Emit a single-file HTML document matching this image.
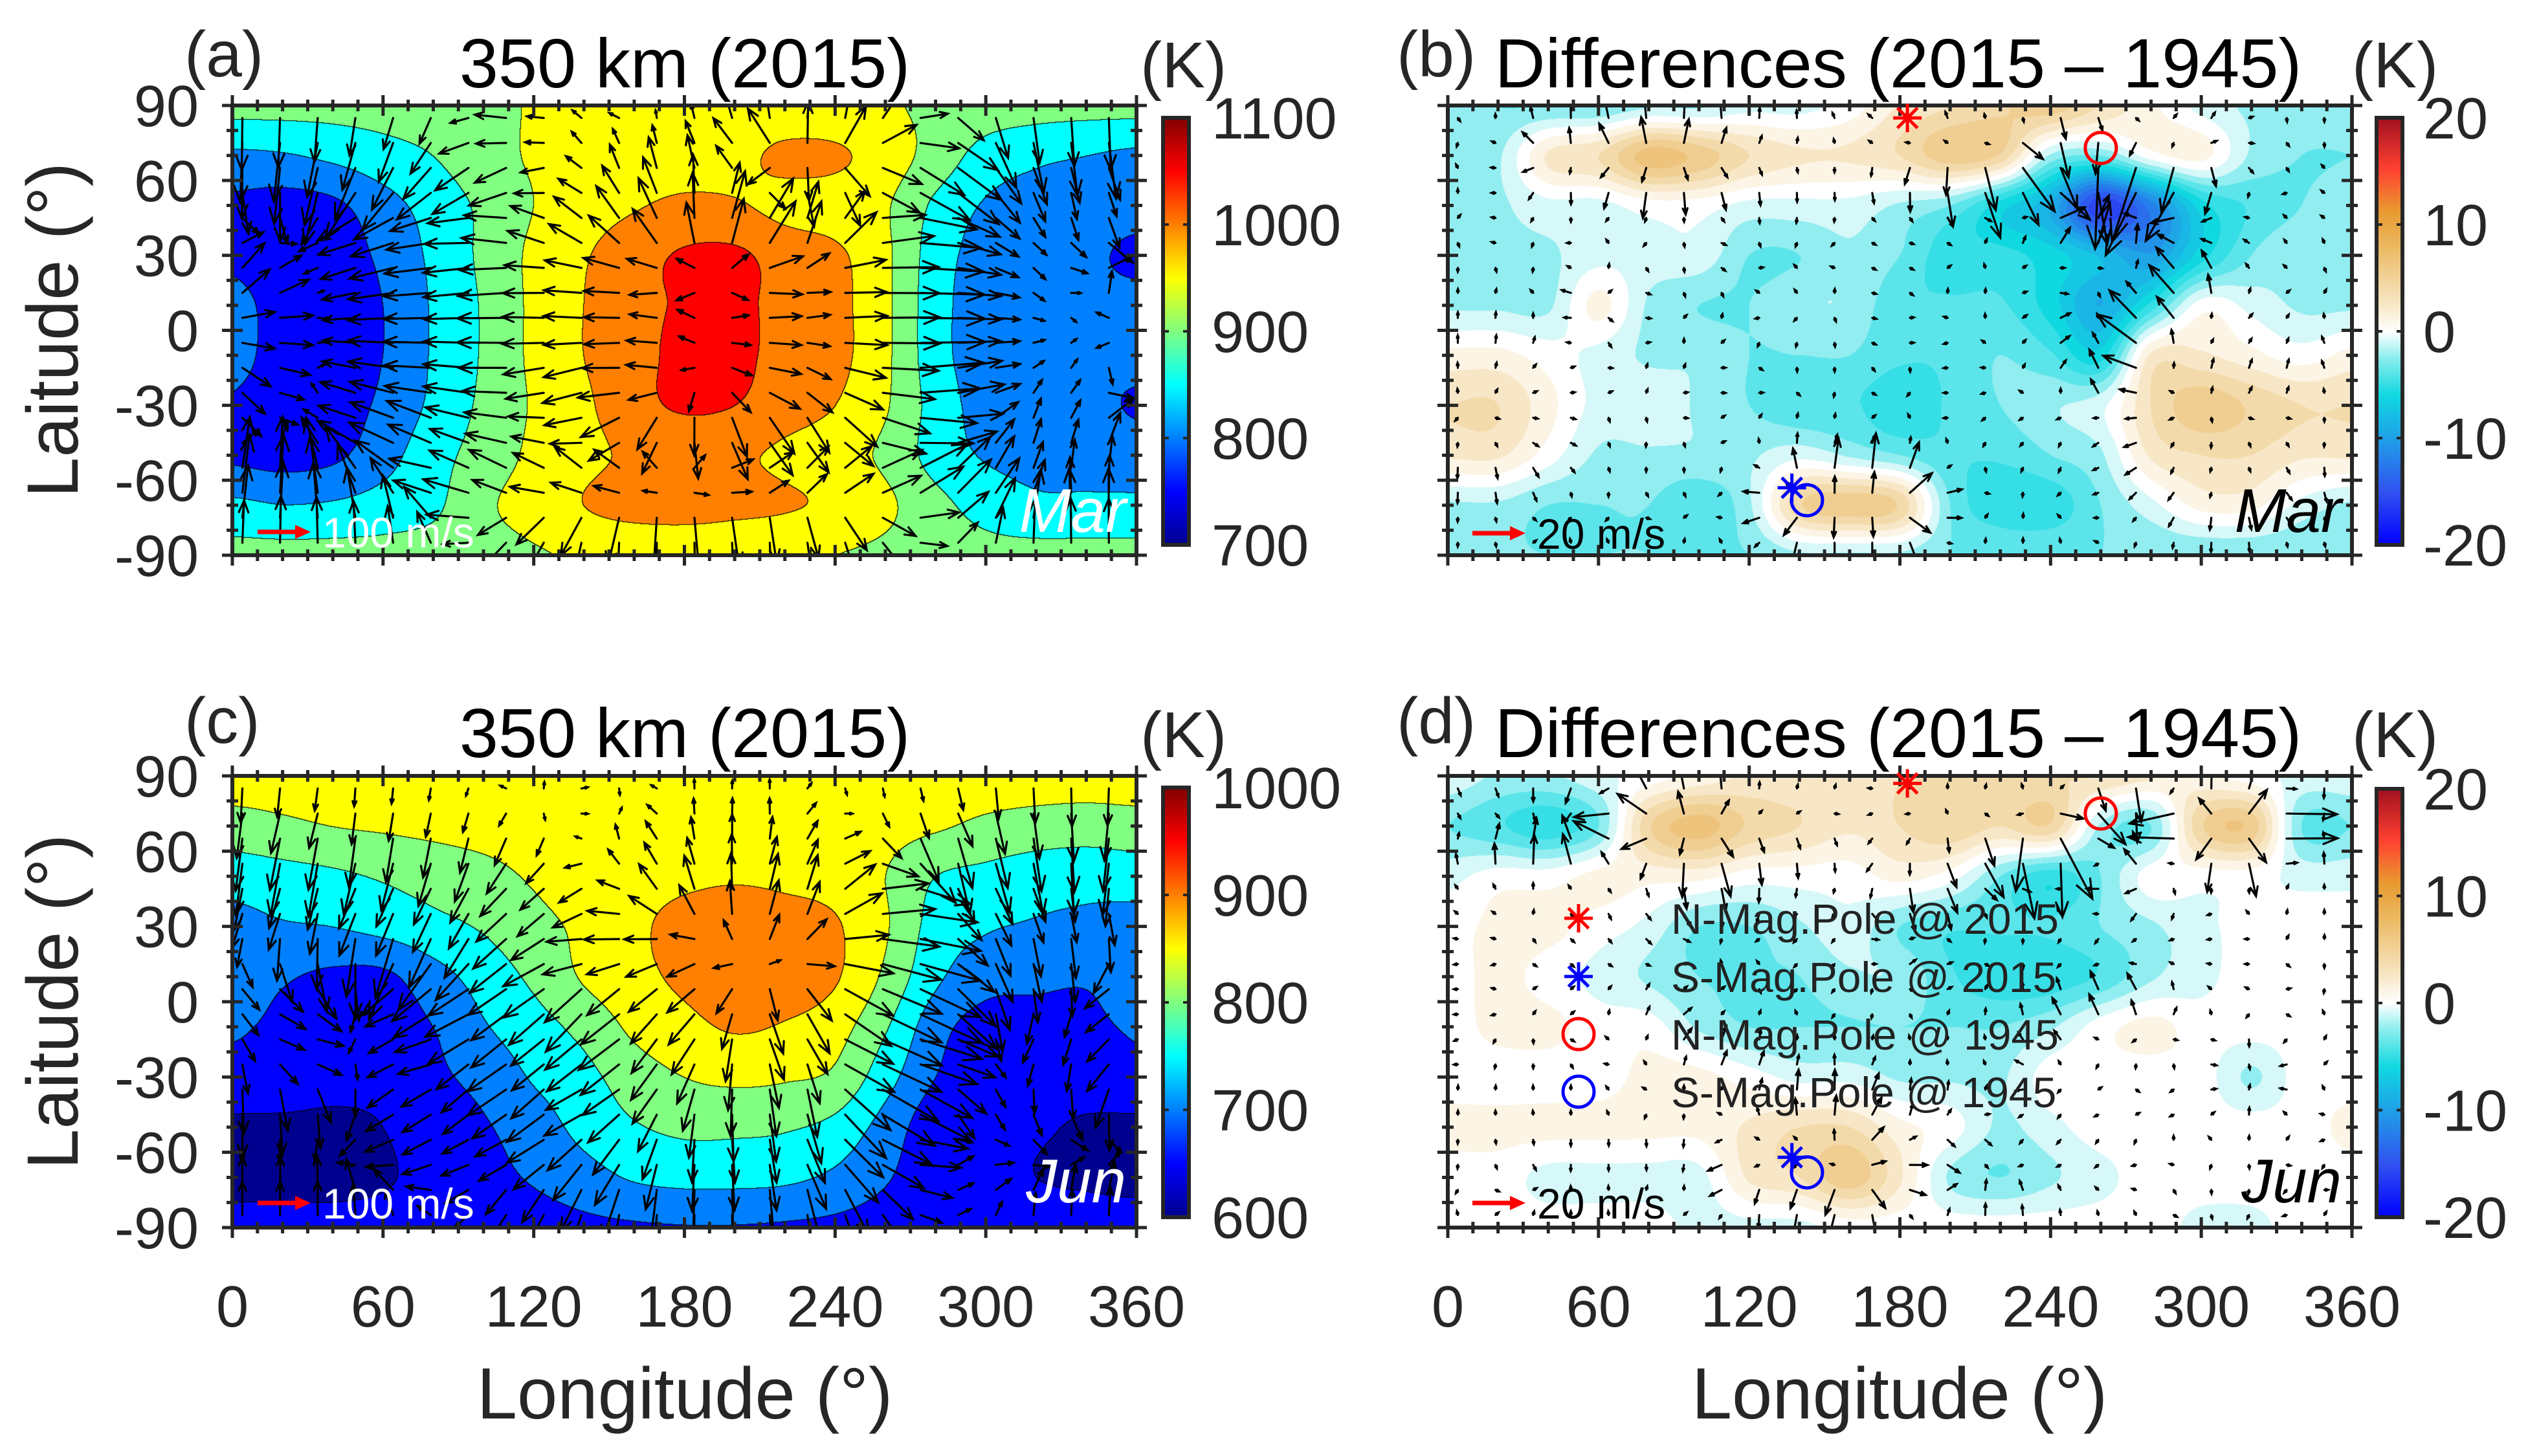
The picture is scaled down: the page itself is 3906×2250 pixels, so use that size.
<!DOCTYPE html>
<html><head><meta charset="utf-8">
<style>
html,body{margin:0;padding:0;background:#fff;}
#wrap{position:relative;width:3906px;height:2250px;overflow:hidden;background:#fff;font-family:"Liberation Sans",Arial,sans-serif;}
canvas{position:absolute;}
svg{position:absolute;left:0;top:0;}
text{font-family:"Liberation Sans",Arial,sans-serif;fill:#262626;}
</style></head>
<body>
<div id="wrap">
<canvas id="cvA"></canvas>
<canvas id="cvB"></canvas>
<canvas id="cvC"></canvas>
<canvas id="cvD"></canvas>
<svg id="svg" width="3906" height="2250" viewBox="0 0 3906 2250">
<defs>
<linearGradient id="jet" x1="0" y1="1" x2="0" y2="0">
<stop offset="0" stop-color="#00008F"/><stop offset="0.125" stop-color="#0000FF"/>
<stop offset="0.375" stop-color="#00FFFF"/><stop offset="0.625" stop-color="#FFFF00"/>
<stop offset="0.875" stop-color="#FF0000"/><stop offset="1" stop-color="#800000"/>
</linearGradient>
<linearGradient id="dif" x1="0" y1="1" x2="0" y2="0">
<stop offset="0" stop-color="#0000FF"/><stop offset="0.12" stop-color="#3050F0"/>
<stop offset="0.25" stop-color="#20A0E8"/><stop offset="0.35" stop-color="#10D8E0"/>
<stop offset="0.44" stop-color="#90EEEE"/><stop offset="0.5" stop-color="#FFFFFF"/>
<stop offset="0.56" stop-color="#F8E8C8"/><stop offset="0.7" stop-color="#EBB860"/>
<stop offset="0.78" stop-color="#E89A30"/><stop offset="0.88" stop-color="#FF4030"/>
<stop offset="1" stop-color="#A01020"/>
</linearGradient>
<clipPath id="clipA"><rect x="359" y="163" width="1397" height="695"/></clipPath>
<clipPath id="clipB"><rect x="2237" y="163" width="1397" height="695"/></clipPath>
<clipPath id="clipC"><rect x="359" y="1199" width="1397" height="698"/></clipPath>
<clipPath id="clipD"><rect x="2237" y="1199" width="1397" height="698"/></clipPath>
</defs>
</svg>
</div>
<script>
// ---------- data ----------
const gridLons = [0,20,40,60,80,100,120,140,160,180,200,220,240,260,280,300,320,340,360];
const gridLats = [90,70,50,30,10,-10,-30,-50,-70,-90];
const tempMar = [
[915,915,915,918,925,930,955,960,965,965,965,965,960,955,940,925,918,915,915],
[840,845,860,880,900,930,955,965,970,975,985,1010,1008,975,930,880,860,850,840],
[790,780,790,830,870,910,950,975,995,1010,1005,985,975,955,890,845,830,825,820],
[790,770,775,810,860,910,960,995,1030,1055,1058,1030,1010,960,875,830,820,810,790],
[815,780,770,800,855,905,960,1000,1035,1055,1060,1035,1015,960,870,825,815,812,815],
[815,780,770,800,855,905,960,1000,1035,1060,1060,1035,1015,960,870,825,815,812,815],
[795,775,775,810,860,910,955,990,1035,1055,1050,1025,1000,955,880,830,820,815,795],
[790,780,790,830,880,920,960,985,1010,1020,1010,990,970,940,880,845,835,830,825],
[860,850,855,870,890,940,970,1000,1020,1025,1015,1005,990,960,915,880,860,860,860],
[915,915,915,915,920,930,945,955,955,955,955,955,950,940,925,915,915,915,915]
];
const tempJun = [
[870,870,870,870,870,870,870,870,870,870,870,870,870,870,870,870,870,870,870],
[830,840,850,855,860,865,870,870,870,875,875,875,870,865,855,840,830,825,830],
[770,780,790,805,820,835,855,870,880,890,895,890,880,850,800,785,770,765,770],
[735,745,750,765,785,805,835,860,890,915,925,920,905,855,780,755,745,740,735],
[720,705,690,690,730,770,810,855,885,910,930,930,905,840,760,720,710,705,720],
[705,690,670,675,700,745,780,815,860,885,905,895,870,805,720,680,685,690,705],
[685,680,665,665,690,715,755,785,825,850,860,855,840,770,700,670,670,670,685],
[640,640,640,650,675,695,725,765,795,810,810,805,785,730,670,660,655,645,640],
[635,635,635,645,665,685,705,730,755,765,765,760,740,705,670,660,650,645,640],
[665,665,665,665,668,672,680,690,695,698,698,695,690,680,670,665,665,665,665]
];
const diffMar = [
[-2,-3,-3,-3,-2,-2,-1,-1,0,2,3,4,5,3,1,-1,-2,-2,-2],
[-3,-2,2,3,6,5,3,2,2,3,5,4,-2,-3,0,1,-2,-3,-3],
[-2,-2,-1,-1,0,0,-1,-1,-1,-2,-3,-6,-9,-16,-12,-6,-4,-3,-2],
[-2,-2,-2,-1,-1,-1,-3,-3,-2,-3,-5,-5,-6,-8,-10,-6,-3,-2,-2],
[-2,-2,-2,1,-2,-3,-3,-2,-2,-4,-4,-4,-6,-9,-5,0,-1,-2,-2],
[1,1,0,-1,-2,-2,-3,-3,-3,-4,-4,-3,-4,-6,2,2,1,0,1],
[3,3,1,-1,-1,-2,-3,-4,-4,-5,-4,-3,-2,-1,3,5,4,3,3],
[2,2,0,-2,-2,-2,-2,-1,-2,-3,-4,-4,-3,-2,2,3,3,2,2],
[-2,-2,-3,-3,-3,-4,-2,4,5,4,-3,-5,-5,-3,-1,1,1,-1,-2],
[-3,-3,-3,-3,-3,-3,-3,-2,-2,-2,-3,-3,-3,-3,-3,-3,-3,-3,-3]
];
const diffJun = [
[-1,-2,-2,-1,0,1,2,2,2,3,3,3,3,3,2,1,0,-1,-1],
[-3,-4,-5,-3,4,6,4,3,2,3,4,3,4,-2,-3,4,5,-3,-3],
[-1,0,0,1,1,1,0,0,0,1,0,-3,-5,-3,0,0,0,-1,-1],
[0,1,1,0,-1,-3,-3,-2,-1,-3,-4,-4,-4,-3,-2,-1,0,0,0],
[0,1,0,-1,-2,-3,-3,-3,-2,-2,-4,-5,-5,-4,-2,-1,0,0,0],
[0,1,1,0,0,-2,-3,-3,-3,-3,-3,-3,-2,0,1,0,0,0,0],
[0,0,0,0,1,1,0,-1,-1,-2,-2,-2,0,0,0,0,-2,0,0],
[1,1,1,1,1,1,2,3,3,1,0,-2,-1,0,0,0,0,0,1],
[0,0,-1,-1,-1,-1,2,3,5,2,-2,-3,-2,-1,0,0,0,0,0],
[0,0,0,0,0,-1,-1,-1,0,0,0,0,0,0,0,-1,-1,0,0]
];
const lonTicks = [0,60,120,180,240,300,360];
const latTicks = [90,60,30,0,-30,-60,-90];
const cbMarTicks = [700,800,900,1000,1100];
const cbJunTicks = [600,700,800,900,1000];
const cbDiffTicks = [-20,-10,0,10,20];
const poleNames = ['N-Mag.Pole @ 2015','S-Mag.Pole @ 2015','N-Mag.Pole @ 1945','S-Mag.Pole @ 1945'];
const poleLonMar = [183,137,260,143];
const poleLatMar = [85,-63,73,-68];
const poleLonJun = [183,137,260,143];
const poleLatJun = [87,-62,75,-68];

// ---------- layout ----------
const P = {
 a:{x:359,y:163,w:1397,h:695},
 b:{x:2237,y:163,w:1397,h:695},
 c:{x:359,y:1199,w:1397,h:698},
 d:{x:2237,y:1199,w:1397,h:698}
};
const NS='http://www.w3.org/2000/svg';
const svg=document.getElementById('svg');
function el(tag,attrs,parent){const e=document.createElementNS(NS,tag);for(const k in attrs)e.setAttribute(k,attrs[k]);(parent||svg).appendChild(e);return e;}

function cr(p0,p1,p2,p3,t){return 0.5*((2*p1)+(-p0+p2)*t+(2*p0-5*p1+4*p2-p3)*t*t+(-p0+3*p1-3*p2+p3)*t*t*t);}
function sample(g,lon,lat){
 const nx=g[0].length,ny=g.length;
 let gx=lon/20,gy=(90-lat)/20;
 gx=Math.max(0,Math.min(nx-1,gx));gy=Math.max(0,Math.min(ny-1,gy));
 const ix=Math.min(nx-2,Math.floor(gx)),iy=Math.min(ny-2,Math.floor(gy));
 const tx=gx-ix,ty=gy-iy;
 const rows=[];
 for(let j=-1;j<=2;j++){
  const r=g[Math.max(0,Math.min(ny-1,iy+j))];
  const v=[];for(let i=-1;i<=2;i++)v.push(r[Math.max(0,Math.min(nx-1,ix+i))]);
  rows.push(cr(v[0],v[1],v[2],v[3],tx));
 }
 return cr(rows[0],rows[1],rows[2],rows[3],ty);
}
const jetLevels=[[0,0,143],[0,0,255],[0,128,255],[0,255,255],[128,255,128],[255,255,0],[255,128,0],[255,0,0]];
const difStops=[[-20,[0,0,255]],[-15,[48,80,240]],[-10,[32,160,232]],[-6,[16,216,224]],[-3,[110,232,236]],[-1.2,[214,248,248]],[0,[255,255,255]],[1.2,[252,244,228]],[4,[242,214,160]],[8,[234,176,88]],[11,[232,154,48]],[15,[255,64,48]],[20,[160,16,32]]];
function difColor(v){
 v=Math.round(v/1.2)*1.2;
 if(v<=-20)return difStops[0][1];if(v>=20)return difStops[difStops.length-1][1];
 for(let i=0;i<difStops.length-1;i++){const a=difStops[i],b=difStops[i+1];
  if(v>=a[0]&&v<=b[0]){const t=(v-a[0])/(b[0]-a[0]);return [0,1,2].map(k=>a[1][k]+(b[1][k]-a[1][k])*t);}}
 return [255,255,255];
}
function drawField(id,p,g,mode,vmin){
 const cv=document.getElementById(id);cv.width=p.w;cv.height=p.h;
 cv.style.left=p.x+'px';cv.style.top=p.y+'px';
 const ctx=cv.getContext('2d');const img=ctx.createImageData(p.w,p.h);
 const lv=new Int8Array(p.w*p.h);const vals=new Float32Array(p.w*p.h);
 for(let y=0;y<p.h;y++){const lat=90-y/(p.h-1)*180;
  for(let x=0;x<p.w;x++){const lon=x/(p.w-1)*360;const v=sample(g,lon,lat);vals[y*p.w+x]=v;
   if(mode==='temp'){lv[y*p.w+x]=Math.max(0,Math.min(7,Math.floor((v-vmin)/50)));}}}
 for(let y=0;y<p.h;y++)for(let x=0;x<p.w;x++){
  const i=y*p.w+x;let c;
  if(mode==='temp'){
   c=jetLevels[lv[i]];
   const L=lv[i];let edge=false;
   for(let dy=-1;dy<=1&&!edge;dy++)for(let dx=-1;dx<=1;dx++){const xx=x+dx,yy=y+dy;
    if(xx<0||yy<0||xx>=p.w||yy>=p.h)continue;if(lv[yy*p.w+xx]>L){edge=true;break;}}
   if(edge)c=[0,0,0];
  }else c=difColor(vals[i]);
  img.data[i*4]=c[0];img.data[i*4+1]=c[1];img.data[i*4+2]=c[2];img.data[i*4+3]=255;
 }
 ctx.putImageData(img,0,0);
}
drawField('cvA',P.a,tempMar,'temp',700);
drawField('cvC',P.c,tempJun,'temp',600);
drawField('cvB',P.b,diffMar,'diff');
drawField('cvD',P.d,diffJun,'diff');

function xOf(p,lon){return p.x+lon/360*p.w;}
function yOf(p,lat){return p.y+(90-lat)/180*p.h;}

// ---------- quiver ----------
function quiver(p,g,maxLen,expo,name,minLen,clip){
 const grp=el('g',{'clip-path':'url(#'+clip+')'});
 
 
 const pts=[];let mx=0;
 for(let j=0;j<18;j++){const lat=85-j*10;
  for(let i=0;i<24;i++){const lon=4+i*15;
   const u=-(sample(g,lon+6,lat)-sample(g,lon-6,lat));
   const v=-(sample(g,lon,Math.min(90,lat+6))-sample(g,lon,Math.max(-90,lat-6)));
   const m=Math.hypot(u,v);if(m>mx)mx=m;pts.push([lon,lat,u,v,m]);}}
 let d='';
 pts.forEach(q=>{
  const m=q[4];if(m===0)return;
  let L=maxLen*Math.pow(m/mx,expo);if(L<minLen)L=minLen;
  const ux=q[2]/m,uy=-q[3]/m;
  const x0=xOf(p,q[0]),y0=yOf(p,q[1]);const x1=x0+ux*L,y1=y0+uy*L;
  const h=Math.max(4,0.3*L),a=0.38;
  const hx1=x1-h*(ux*Math.cos(a)-uy*Math.sin(a)),hy1=y1-h*(uy*Math.cos(a)+ux*Math.sin(a));
  const hx2=x1-h*(ux*Math.cos(-a)-uy*Math.sin(-a)),hy2=y1-h*(uy*Math.cos(-a)+ux*Math.sin(-a));
  d+=`M${x0.toFixed(1)},${y0.toFixed(1)}L${x1.toFixed(1)},${y1.toFixed(1)}M${hx1.toFixed(1)},${hy1.toFixed(1)}L${x1.toFixed(1)},${y1.toFixed(1)}L${hx2.toFixed(1)},${hy2.toFixed(1)}`;
 });
 const path=el('path',{d:d,stroke:'#000','stroke-width':3.2,fill:'none','stroke-linecap':'round'},grp);
 
 
}
quiver(P.a,tempMar,100,0.6,'wind-vectors-a',10,'clipA');
quiver(P.c,tempJun,105,0.6,'wind-vectors-c',10,'clipC');
quiver(P.b,diffMar,125,1.6,'wind-vectors-b',6,'clipB');
quiver(P.d,diffJun,105,1.6,'wind-vectors-d',6,'clipD');

// ---------- axes ----------
function axes(p,key,showX,showYLabels){
 const g=el('g',{});
 
 
 const fr=el('rect',{x:p.x,y:p.y,width:p.w,height:p.h,fill:'none',stroke:'#262626','stroke-width':6},g);
 
 
 let d='';
 for(let lon=0;lon<=360;lon+=10){const x=xOf(p,lon);const L=(lon%60===0)?16:9;
  d+=`M${x},${p.y-L}L${x},${p.y+L}M${x},${p.y+p.h-L}L${x},${p.y+p.h+L}`;}
 for(let lat=-90;lat<=90;lat+=10){const y=yOf(p,lat);const L=(lat%30===0)?16:9;
  d+=`M${p.x-L},${y}L${p.x+L},${y}M${p.x+p.w-L},${y}L${p.x+p.w+L},${y}`;}
 el('path',{d:d,stroke:'#262626','stroke-width':5,fill:'none'},g);
 if(showYLabels){latTicks.forEach(t=>{
  const tx=el('text',{x:p.x-52,y:yOf(p,t)+32,'font-size':90,'text-anchor':'end'},g);tx.textContent=t;
  
  });}
 if(showX){lonTicks.forEach(t=>{
  const tx=el('text',{x:xOf(p,t),y:2050,'font-size':90,'text-anchor':'middle'},g);tx.textContent=t;
  
  });}
}
axes(P.a,'a',false,true);axes(P.b,'b',false,false);axes(P.c,'c',true,true);axes(P.d,'d',true,false);

// ---------- colorbars ----------
function colorbar(x,y1,y2,grad,ticks,key,lx){
 const g=el('g',{});
 
 
 el('rect',{x:x,y:y1,width:40,height:y2-y1,fill:'url(#'+grad+')',stroke:'#262626','stroke-width':6},g);
 const lo=ticks[0],hi=ticks[ticks.length-1];
 ticks.forEach(t=>{const y=y2-(t-lo)/(hi-lo)*(y2-y1);
  el('path',{d:`M${x},${y}L${x+9},${y}M${x+31},${y}L${x+40},${y}`,stroke:'#262626','stroke-width':4},g);
  const tx=el('text',{x:lx,y:y+32,'font-size':90},g);tx.textContent=t;
  
  });
}
colorbar(1797,182,842,'jet',cbMarTicks,'a',1872);
colorbar(1797,1217,1881,'jet',cbJunTicks,'c',1872);
colorbar(3672,182,842,'dif',cbDiffTicks,'b',3744);
colorbar(3672,1219,1881,'dif',cbDiffTicks,'d',3744);

// ---------- texts ----------
function txt(s,attrs,name){const t=el('text',attrs);t.textContent=s;return t;}
txt('(a)',{x:285,y:118,'font-size':100},'panel-label-a');
txt('350 km (2015)',{x:1058,y:135,'font-size':108,'text-anchor':'middle',style:'fill:#000'},'title-a');
txt('(K)',{x:1762,y:135,'font-size':100},'unit-label-a');
txt('(b)',{x:2158,y:118,'font-size':100},'panel-label-b');
txt('Differences (2015 \u2013 1945)',{x:2933,y:135,'font-size':108,'text-anchor':'middle',style:'fill:#000'},'title-b');
txt('(K)',{x:3634,y:135,'font-size':100},'unit-label-b');
txt('(c)',{x:285,y:1148,'font-size':100},'panel-label-c');
txt('350 km (2015)',{x:1058,y:1170,'font-size':108,'text-anchor':'middle',style:'fill:#000'},'title-c');
txt('(K)',{x:1762,y:1170,'font-size':100},'unit-label-c');
txt('(d)',{x:2158,y:1148,'font-size':100},'panel-label-d');
txt('Differences (2015 \u2013 1945)',{x:2933,y:1170,'font-size':108,'text-anchor':'middle',style:'fill:#000'},'title-d');
txt('(K)',{x:3634,y:1170,'font-size':100},'unit-label-d');
txt('Laitude (°)',{x:0,y:0,'font-size':112,'text-anchor':'middle',transform:'translate(120,510) rotate(-90)'},'y-axis-title-a');
txt('Laitude (°)',{x:0,y:0,'font-size':112,'text-anchor':'middle',transform:'translate(120,1548) rotate(-90)'},'y-axis-title-c');
txt('Longitude (°)',{x:1058,y:2192,'font-size':112,'text-anchor':'middle'},'x-axis-title-c');
txt('Longitude (°)',{x:2935,y:2192,'font-size':112,'text-anchor':'middle'},'x-axis-title-d');
txt('Mar',{x:1740,y:822,'font-size':96,'text-anchor':'end','font-style':'italic',style:'fill:#fff'},'month-label-a');
txt('Jun',{x:1740,y:1858,'font-size':96,'text-anchor':'end','font-style':'italic',style:'fill:#fff'},'month-label-c');
txt('Mar',{x:3618,y:822,'font-size':96,'text-anchor':'end','font-style':'italic',style:'fill:#000'},'month-label-b');
txt('Jun',{x:3618,y:1858,'font-size':96,'text-anchor':'end','font-style':'italic',style:'fill:#000'},'month-label-d');
// reference arrows
function refArrow(x,y,label,color,key){
 const g=el('g',{});
 
 
 el('path',{d:`M${x},${y}L${x+60},${y}`,stroke:'#f00','stroke-width':7},g);
 el('path',{d:`M${x+58},${y-11}L${x+82},${y}L${x+58},${y+11}Z`,fill:'#f00'},g);
 const t=el('text',{x:x+100,y:y+24,'font-size':66,style:'fill:'+color},g);t.textContent=label;
}
refArrow(398,822,'100 m/s','#fff','a');
refArrow(398,1859,'100 m/s','#fff','c');
refArrow(2275,824,'20 m/s','#000','b');
refArrow(2275,1859,'20 m/s','#000','d');

// ---------- markers ----------
function star(x,y,c,g){let d='';for(let k=0;k<4;k++){const a=k*Math.PI/4;d+=`M${x-22*Math.cos(a)},${y-22*Math.sin(a)}L${x+22*Math.cos(a)},${y+22*Math.sin(a)}`;}
 return el('path',{d:d,stroke:c,'stroke-width':5},g);}
const mColors=['#f00','#00f','#f00','#00f'];
const mStar=[true,true,false,false];
function poles(p,lons,lats,key){
 lons.forEach((lon,i)=>{
  const g=el('g',{});
  
  
  const x=xOf(p,lon),y=yOf(p,lats[i]);
  if(mStar[i])star(x,y,mColors[i],g);else el('circle',{cx:x,cy:y,r:24,fill:'none',stroke:mColors[i],'stroke-width':5},g);
 });
}
poles(P.b,poleLonMar,poleLatMar,'b');
poles(P.d,poleLonJun,poleLatJun,'d');
// legend
const lg=el('g',{});


const legY=[1419,1509,1598,1687];
poleNames.forEach((n,i)=>{
 const e=el('g',{},lg);
 
 
 if(mStar[i])star(2439,legY[i],mColors[i],e);else el('circle',{cx:2439,cy:legY[i],r:24,fill:'none',stroke:mColors[i],'stroke-width':5},e);
 const t=el('text',{x:2582,y:legY[i]+24,'font-size':66,style:'fill:#222'},e);t.textContent=n;
});
</script>
</body></html>
